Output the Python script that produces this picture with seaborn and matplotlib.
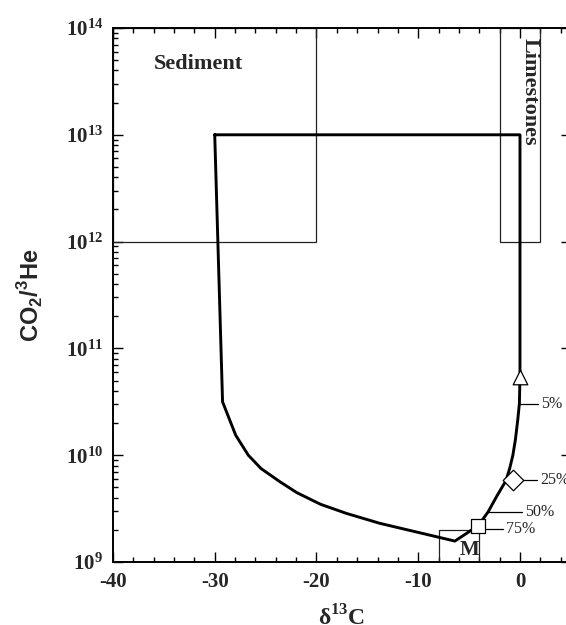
import numpy as np
import pandas as pd
import matplotlib
matplotlib.use('Agg')
import matplotlib.pyplot as plt
import matplotlib.patches as mpatches
from matplotlib.ticker import FixedLocator, FuncFormatter, LogLocator, NullFormatter
import seaborn as sns

# mixing curve (closed loop)
curve_d13c = [-30.0, -29.23, -27.94, -26.7, -25.45, -23.6, -21.95, -19.6, -17.05,
              -13.76, -6.4, -4.1, -3.14, -2.3, -1.37, -1.0, -0.7, -0.45, -0.22,
              -0.06, 0.0, 0.0, -30.0]
curve_ratio = [1e13, 3.16e10, 1.54e10, 1.0e10, 7.5e9, 5.65e9, 4.47e9, 3.47e9, 2.85e9,
               2.3e9, 1.57e9, 2.19e9, 2.94e9, 4.1e9, 5.8e9, 7.6e9, 1.0e10, 1.4e10,
               2.14e10, 3.04e10, 5.4e10, 1e13, 1e13]

# end-member fields
sediment_x = [-40, -20]
sediment_y = [1e12, 1e14]
limestone_x = [-2, 2]
limestone_y = [1e12, 1e14]
mantle_x = [-8, -4]
mantle_y = [1e9, 2e9]

# marked mixing fractions
mark_labels = ['5%', '25%', '75%']
mark_x = [0.0, -0.7, -4.1]
mark_y = [5.4e10, 5.8e9, 2.19e9]
mark_shape = ['^', 'D', 's']

# leader lines for the percentage labels
pct_labels = ['5%', '25%', '50%', '75%']
lead_x0 = [-0.06, -0.1, -3.14, -3.6]
lead_x1 = [1.75, 1.65, 0.15, -1.65]
lead_y = [3.04e10, 5.8e9, 2.94e9, 2.05e9]

sns.set_style('ticks')
plt.rcParams['font.family'] = ['Liberation Serif', 'DejaVu Serif']
plt.rcParams['mathtext.fontset'] = 'custom'
plt.rcParams['mathtext.rm'] = 'Liberation Serif'
plt.rcParams['mathtext.bf'] = 'Liberation Serif:bold'
plt.rcParams['mathtext.sf'] = 'Liberation Sans:bold'

fig = plt.figure(figsize=(5.66, 6.25), dpi=100)
ax = fig.add_axes([0.1996, 0.1008, 0.809, 0.8544])

# boxes
for bx, by in [(sediment_x, sediment_y), (limestone_x, limestone_y), (mantle_x, mantle_y)]:
    ax.add_patch(mpatches.Rectangle((bx[0], by[0]), bx[1] - bx[0], by[1] - by[0],
                                    fill=False, edgecolor='#222222', linewidth=0.9))

df = pd.DataFrame({'d13c': curve_d13c, 'ratio': curve_ratio})
sns.lineplot(data=df, x='d13c', y='ratio', sort=False, estimator=None,
             color='black', linewidth=2.1, ax=ax)

for i in range(len(pct_labels)):
    ax.plot([lead_x0[i], lead_x1[i]], [lead_y[i], lead_y[i]], color='black', linewidth=0.9)
    ax.text(lead_x1[i] + 0.3, lead_y[i], pct_labels[i], fontsize=11.5,
            ha='left', va='center')

for mx, my, ms in zip(mark_x, mark_y, mark_shape):
    size = {'^': 110, 'D': 110, 's': 95}[ms]
    sns.scatterplot(x=[mx], y=[my], marker=ms, s=size, color='white',
                    edgecolor='black', linewidth=0.9, ax=ax, zorder=5)

ax.text(-36, 4.6e13, 'Sediment', fontsize=16, fontweight='bold', ha='left', va='center')
ax.text(0.9, 8.0e13, 'Limestones', fontsize=16, fontweight='bold', rotation=-90,
        ha='center', va='top')
ax.text(-5.0, 1.29e9, 'M', fontsize=15, fontweight='bold', ha='center', va='center')

ax.set_yscale('log')
ax.set_xlim(-40, 5)
ax.set_ylim(1e9, 1e14)

ax.xaxis.set_major_locator(FixedLocator([-40, -30, -20, -10, 0]))
ax.xaxis.set_minor_locator(FixedLocator(np.arange(-40, 6, 2)))
ax.xaxis.set_major_formatter(FuncFormatter(lambda v, p: f'{int(v)}'))
ax.yaxis.set_major_locator(LogLocator(base=10, numticks=10))
ax.yaxis.set_minor_locator(LogLocator(base=10, subs=np.arange(2, 10), numticks=20))
ax.yaxis.set_minor_formatter(NullFormatter())
ax.yaxis.set_major_formatter(FuncFormatter(
    lambda v, p: r'$\mathbf{10^{%d}}$' % int(round(np.log10(v)))))

ax.tick_params(which='both', direction='in', top=True, right=True, width=1.0,
               color='black')
ax.tick_params(which='major', length=7, labelsize=15, pad=7)
ax.tick_params(which='minor', length=3.5)
for lab in ax.get_xticklabels():
    lab.set_fontweight('bold')
for sp in ax.spines.values():
    sp.set_linewidth(1.4)
    sp.set_color('black')

ax.set_xlabel(r'δ$^\mathbf{13}$C', fontsize=17, fontweight='bold', labelpad=10)
ax.set_ylabel(r'CO$_\mathsf{2}$/$^\mathsf{3}$He', fontsize=17, fontweight='bold',
              fontfamily='Liberation Sans', labelpad=14)

fig.savefig('out.png', dpi=100)
